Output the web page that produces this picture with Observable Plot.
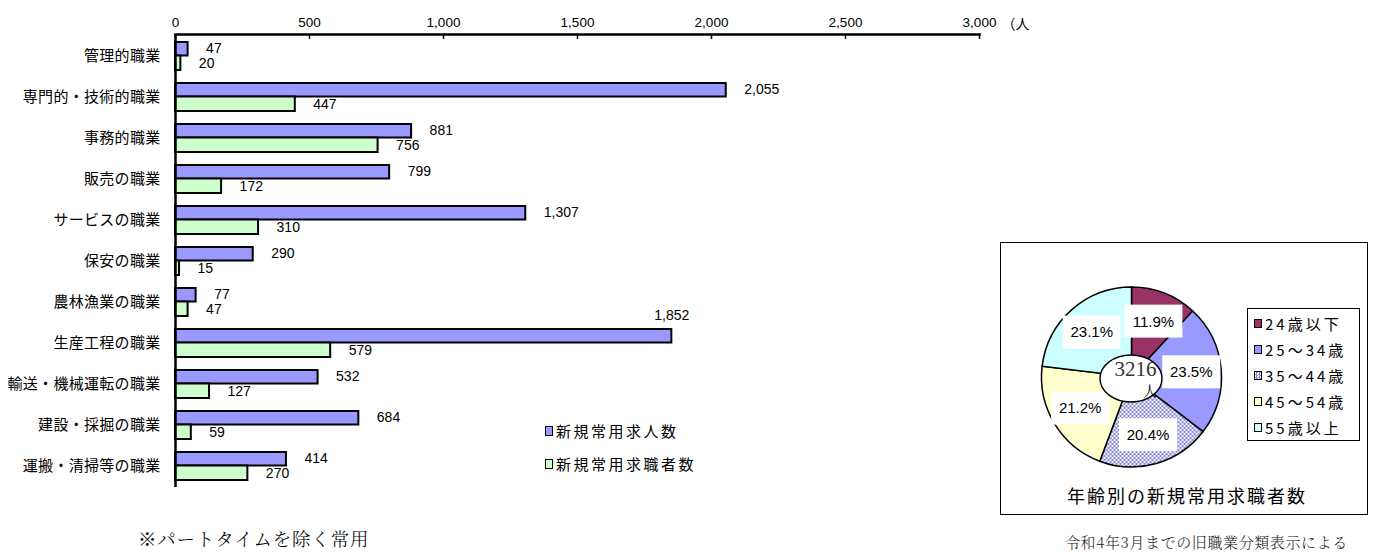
<!DOCTYPE html>
<html><head><meta charset="utf-8">
<script src="https://cdn.jsdelivr.net/npm/d3@7"></script>
<script src="https://cdn.jsdelivr.net/npm/@observablehq/plot@0.6"></script>
<style>
body{margin:0;background:#fff;}
#root{position:relative;width:1373px;height:552px;overflow:hidden;font-family:"Noto Sans CJK JP",sans-serif;color:#000;}
.abs{position:absolute;white-space:nowrap;line-height:1;}
#root svg{position:absolute;left:0;top:0;overflow:visible;}
#root g[aria-label="y-axis tick label"] text{letter-spacing:0.3px;}
.sq{display:inline-block;box-sizing:border-box;border:1.4px solid #000;}
</style></head><body><div id="root"></div>
<script>
// ---- data ----
const categories = ["管理的職業","専門的・技術的職業","事務的職業","販売の職業","サービスの職業","保安の職業","農林漁業の職業","生産工程の職業","輸送・機械運転の職業","建設・採掘の職業","運搬・清掃等の職業"];
const jobOffers  = [47,2055,881,799,1307,290,77,1852,532,684,414];
const jobSeekers = [20,447,756,172,310,15,47,579,127,59,270];
const xTicks = [0,500,1000,1500,2000,2500,3000];
const seriesNames = ["新規常用求人数","新規常用求職者数"];
const labelAbove = ["生産工程の職業"];
const ageGroups = ["24歳以下","25～34歳","35～44歳","45～54歳","55歳以上"];
const ageShares = [11.9,23.5,20.4,21.2,23.1];
const seekerTotal = 3216;

// ---- styles ----
const barColors = ["#9999FF","#CCFFCC"];
const pieColors = ["#993366","#9999FF","url(#dots)","#FFFFCC","#CCFFFF"];
const numFont = '"Liberation Sans", Arial, sans-serif';
const jpFont = '"Noto Sans CJK JP", sans-serif';
const serifJp = '"Noto Serif CJK JP","Noto Sans CJK JP", serif';

const root = document.getElementById("root");
const fmt = d3.format(",");
const rows = categories.map((c,i)=>({category:c, offers:jobOffers[i], seekers:jobSeekers[i]}));

const bar = Plot.plot({
  width:1373, height:490, marginTop:34, marginBottom:3, marginLeft:175, marginRight:394,
  style:{fontFamily:jpFont, background:"transparent", overflow:"visible"},
  x:{domain:[0,3000]},
  y:{domain:categories, padding:0},
  marks:[
    Plot.barX(rows,{x1:0,x2:"offers",y:"category",fill:barColors[0],stroke:"#000",strokeWidth:2,insetTop:7,insetBottom:20.5}),
    Plot.barX(rows,{x1:0,x2:"seekers",y:"category",fill:barColors[1],stroke:"#000",strokeWidth:2,insetTop:20.5,insetBottom:6}),
    Plot.text(rows.filter(d=>!labelAbove.includes(d.category)),{x:"offers",y:"category",text:d=>fmt(d.offers),dx:18,dy:-7,textAnchor:"start",fontSize:14,fontFamily:numFont}),
    Plot.text(rows.filter(d=>labelAbove.includes(d.category)),{x:"offers",y:"category",text:d=>fmt(d.offers),dy:-27,textAnchor:"middle",fontSize:14,fontFamily:numFont}),
    Plot.text(rows,{x:"seekers",y:"category",text:d=>fmt(d.seekers),dx:18,dy:8,textAnchor:"start",fontSize:14,fontFamily:numFont}),
    Plot.ruleX(xTicks,{insetBottom:448,strokeWidth:1.5}),
    Plot.ruleX([0],{strokeWidth:2.5}),
    Plot.frame({anchor:"top",strokeWidth:2.5}),
    Plot.axisX({anchor:"top",ticks:xTicks,tickFormat:fmt,tickSize:0,tickPadding:8,fontSize:13.5,label:null,fontFamily:numFont}),
    Plot.axisY({tickSize:0,tickPadding:15,fontSize:15,label:null}),
    Plot.text(["（人"],{x:()=>3000,frameAnchor:"top",dx:22,dy:-15,textAnchor:"start",fontSize:14})
  ]
});
root.appendChild(bar);

// bar legend
seriesNames.forEach((name,i)=>{
  const d = document.createElement("div");
  d.className="abs";
  d.style.cssText=`left:545px;top:${422+33*i}px;height:17px;display:flex;align-items:center;font-size:15px;letter-spacing:2.5px;`;
  d.innerHTML=`<span class="sq" style="width:8px;height:10px;background:${barColors[i]};margin-right:3px"></span>${name}`;
  root.appendChild(d);
});

// footnotes
const foot = document.createElement("div");
foot.className="abs";
foot.style.cssText=`left:138px;top:529px;font-size:18.5px;font-family:${serifJp};font-weight:300;letter-spacing:0.8px;`;
foot.textContent="※パートタイムを除く常用";
root.appendChild(foot);

const cap = document.createElement("div");
cap.className="abs";
cap.style.cssText=`left:1065px;top:534px;font-size:15px;font-family:${serifJp};font-weight:300;color:#222;letter-spacing:0.6px;`;
cap.textContent="令和4年3月までの旧職業分類表示による";
root.appendChild(cap);

// pie box
const box = document.createElement("div");
box.className="abs";
box.style.cssText="left:1000px;top:242px;width:368px;height:273px;box-sizing:border-box;border:1.6px solid #000;background:#fff;";
root.appendChild(box);

const ageData = ageGroups.map((g,i)=>({group:g, share:ageShares[i]}));
function pieMark(index, scales, values, dimensions, context){
  const g = d3.create("svg:g");
  const pat = g.append("defs").append("pattern").attr("id","dots").attr("width",4).attr("height",4).attr("patternUnits","userSpaceOnUse");
  pat.append("rect").attr("width",4).attr("height",4).attr("fill","#8A8AD6");
  pat.append("circle").attr("cx",1).attr("cy",1).attr("r",1.1).attr("fill","#fff");
  pat.append("circle").attr("cx",3).attr("cy",3).attr("r",1.1).attr("fill","#fff");
  const cx=131.5, cy=135, r=90;
  const arcs = d3.pie().sort(null).value(d=>d.share)(ageData);
  const arc = d3.arc().innerRadius(0).outerRadius(r);
  const lab = d3.arc().innerRadius(60).outerRadius(60);
  const c = g.append("g").attr("transform",`translate(${cx},${cy})`);
  c.selectAll("path").data(arcs).join("path").attr("d",arc).attr("fill",(d,i)=>pieColors[i]).attr("stroke","#000").attr("stroke-width",1.5);
  const lg = c.selectAll("g.lbl").data(arcs).join("g").attr("class","lbl").attr("transform",d=>`translate(${lab.centroid(d)})`);
  lg.append("rect").attr("x",-29).attr("y",-16.5).attr("width",58).attr("height",33).attr("fill","#fff");
  lg.append("text").attr("text-anchor","middle").attr("dy","0.36em").attr("font-size",15).attr("font-family",numFont).text(d=>d.data.share.toFixed(1)+"%");
  c.append("ellipse").attr("cx",-0.5).attr("cy",1.5).attr("rx",31).attr("ry",23.5).attr("fill","#fff").attr("stroke","#000").attr("stroke-width",1.4);
  c.append("text").attr("x",4).attr("y",-8.5).attr("dy","0.35em").attr("text-anchor","middle").attr("font-size",21).attr("font-family",'"Liberation Serif","DejaVu Serif",serif').attr("fill","#333").text(String(seekerTotal));
  c.append("text").attr("x",18.5).attr("y",13.5).attr("dy","0.36em").attr("text-anchor","middle").attr("font-size",14).attr("font-family",serifJp).text("人");
  return g.node();
}
const pie = Plot.plot({width:368, height:273, margin:0, style:{background:"transparent"}, marks:[pieMark]});
pie.style.left="1000px"; pie.style.top="242px";
root.appendChild(pie);

// pie legend
const lgBox = document.createElement("div");
lgBox.className="abs";
lgBox.style.cssText="left:1247px;top:308px;width:113px;height:133px;box-sizing:border-box;border:1.6px solid #000;background:#fff;";
root.appendChild(lgBox);
ageGroups.forEach((name,i)=>{
  const d = document.createElement("div");
  d.className="abs";
  d.style.cssText=`left:1254px;top:${314+26*i}px;height:18px;display:flex;align-items:center;font-size:15px;letter-spacing:3px;`;
  const fill = i===2 ? "repeating-conic-gradient(#8A8AD6 0 25%, #ffffff 0 50%) 0 0/3px 3px" : pieColors[i];
  d.innerHTML=`<span class="sq" style="width:8px;height:9px;background:${fill};margin-right:3px"></span>${name}`;
  root.appendChild(d);
});

// pie title
const t = document.createElement("div");
t.className="abs";
t.style.cssText="left:1000px;top:486px;width:368px;text-align:center;font-size:18px;letter-spacing:2px;padding-left:6px;box-sizing:border-box;";
t.textContent="年齢別の新規常用求職者数";
root.appendChild(t);
</script></body></html>
